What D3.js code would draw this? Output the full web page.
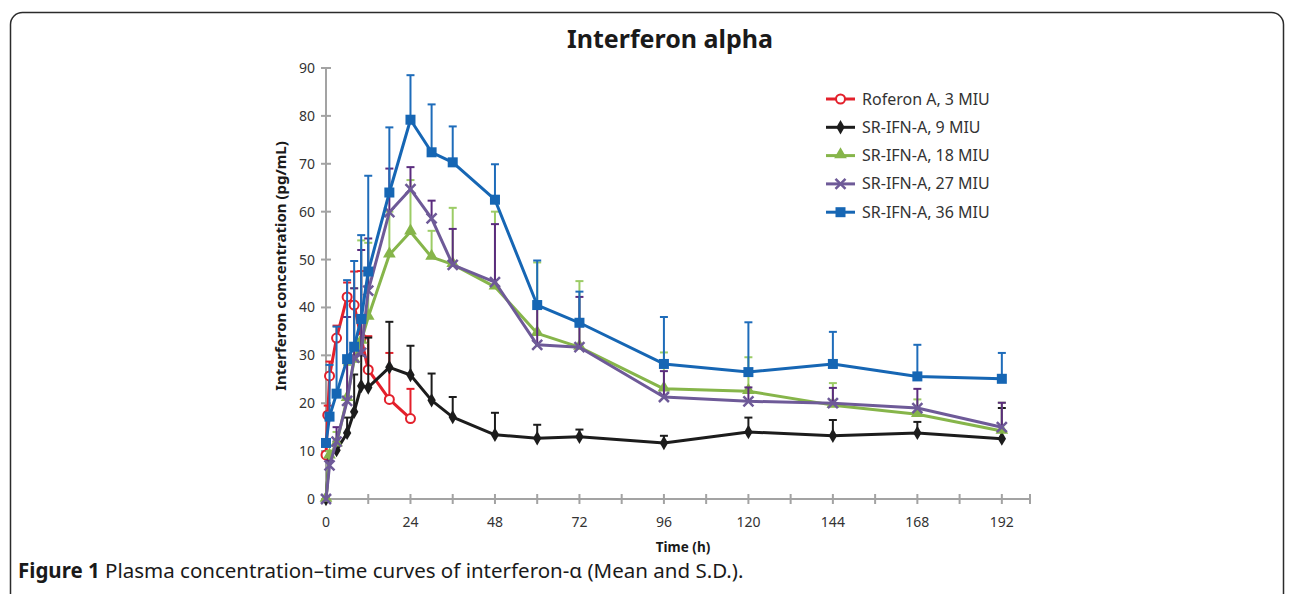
<!DOCTYPE html>
<html>
<head>
<meta charset="utf-8">
<script src="https://cdn.jsdelivr.net/npm/d3@7"></script>
<style>
  body { margin: 0; background: #fff; }
  text { font-family: "Noto Sans", "Open Sans", sans-serif; }
</style>
</head>
<body>
<svg id="chart" width="1292" height="594"></svg>
<script>
// sampling times (h)
var timesRoferon = [0, 0.5, 1, 3, 6, 8, 10, 12, 18, 24];
var timesSR = [0, 1, 3, 6, 8, 10, 12, 18, 24, 30, 36, 48, 60, 72, 96, 120, 144, 168, 192];

// means (pg/mL)
var roferon3 = [9.2, 17.5, 25.7, 33.6, 42.2, 40.5, 33.6, 27, 20.8, 16.8];
var sr9  = [0, 9, 10.2, 13.8, 18.2, 23.6, 23.3, 27.5, 25.9, 20.6, 17.1, 13.4, 12.7, 13.0, 11.7, 14.0, 13.2, 13.8, 12.6];
var sr18 = [0, 9, 11.5, 21, 29, 33, 38, 51, 55.8, 50.5, 49, 44.3, 34.6, 31.7, 23, 22.5, 19.6, 17.7, 14.2];
var sr27 = [0, 7, 12, 20.5, 29.5, 30.5, 43.5, 59.9, 64.7, 58.6, 48.9, 45.3, 32.2, 31.7, 21.3, 20.4, 20.0, 19.0, 15.0];
var sr36 = [11.7, 17.2, 22, 29.2, 31.8, 37.6, 47.5, 64, 79.2, 72.4, 70.3, 62.5, 40.5, 36.8, 28.2, 26.5, 28.2, 25.6, 25.1];

// S.D. (upper bars only)
var roferon3Sd = [0, 2, 3, 2.6, 3, 7, 14, 7, 9.7, 6.2];
var sr9Sd  = [0, 1, 1.8, 3.2, 7.8, 6.4, 10.4, 9.5, 6.1, 5.6, 4.2, 4.6, 2.8, 1.5, 1.5, 3, 3.3, 2.3, 6.4];
var sr18Sd = [0, 1, 2.5, 7, 15, 21, 15.5, 9, 10.8, 5.5, 11.8, 15.7, 14.8, 13.8, 7.6, 7.1, 4.6, 3.1, 5.9];
var sr27Sd = [0, 1, 3, 17.5, 14.5, 21.5, 10.9, 9.1, 4.6, 3.7, 7.5, 12.1, 9, 10.5, 5.4, 2.9, 3.2, 4, 5.1];
var sr36Sd = [0.3, 10.8, 14, 16.5, 17.9, 17.5, 20, 13.6, 9.3, 10, 7.5, 7.4, 9.3, 6.5, 9.8, 10.4, 6.7, 6.6, 5.4];

var seriesNames = ["Roferon A, 3 MIU", "SR-IFN-A, 9 MIU", "SR-IFN-A, 18 MIU", "SR-IFN-A, 27 MIU", "SR-IFN-A, 36 MIU"];

var xTicks = d3.range(0, 193, 12);
var xLabels = d3.range(0, 193, 24);
var yTicks = d3.range(0, 91, 10);

var svg = d3.select("#chart");

// series styling
var series = [
  {name: seriesNames[0], t: timesRoferon, v: roferon3, sd: roferon3Sd, color: "#e3202b", bar: "#e3202b", shape: "circle"},
  {name: seriesNames[1], t: timesSR, v: sr9, sd: sr9Sd, color: "#1c1c1c", bar: "#1c1c1c", shape: "diamond"},
  {name: seriesNames[2], t: timesSR, v: sr18, sd: sr18Sd, color: "#86b54a", bar: "#9ccc66", shape: "triangle"},
  {name: seriesNames[3], t: timesSR, v: sr27, sd: sr27Sd, color: "#6e5a98", bar: "#5b2c7e", shape: "cross"},
  {name: seriesNames[4], t: timesSR, v: sr36, sd: sr36Sd, color: "#1666b4", bar: "#1e6cba", shape: "square"}
];

var x = d3.scaleLinear().domain([0, 200]).range([326, 1030]);
var y = d3.scaleLinear().domain([0, 90]).range([499, 68]);

// frame round the figure
svg.append("rect")
  .attr("x", 10.5).attr("y", 12.5)
  .attr("width", 1273).attr("height", 700)
  .attr("rx", 12)
  .attr("fill", "none")
  .attr("stroke", "#2b2b2b")
  .attr("stroke-width", 1.5);

svg.append("text")
  .attr("x", 670).attr("y", 48)
  .attr("text-anchor", "middle")
  .attr("font-size", 25).attr("font-weight", "bold")
  .attr("fill", "#1a1a1a")
  .text("Interferon alpha");

// axes (cross ticks, grey like the original)
var axisColor = "#a3a3a3";
var axes = svg.append("g");

axes.append("line")
  .attr("x1", x(0)).attr("x2", x(0))
  .attr("y1", y(90)).attr("y2", y(0))
  .attr("stroke", axisColor).attr("stroke-width", 2);
axes.selectAll(".ytick").data(yTicks).enter().append("line")
  .attr("x1", x(0) - 5).attr("x2", x(0) + 5)
  .attr("y1", function(d) { return y(d); })
  .attr("y2", function(d) { return y(d); })
  .attr("stroke", axisColor).attr("stroke-width", 2);
axes.selectAll(".ylab").data(yTicks).enter().append("text")
  .attr("x", x(0) - 11)
  .attr("y", function(d) { return y(d) + 5; })
  .attr("text-anchor", "end")
  .attr("font-size", 14).attr("fill", "#333")
  .text(function(d) { return d; });

axes.append("line")
  .attr("x1", x(0)).attr("x2", x(200))
  .attr("y1", y(0)).attr("y2", y(0))
  .attr("stroke", axisColor).attr("stroke-width", 2);
axes.selectAll(".xtick").data(xTicks.concat([200])).enter().append("line")
  .attr("x1", function(d) { return x(d); })
  .attr("x2", function(d) { return x(d); })
  .attr("y1", y(0) - 5).attr("y2", y(0) + 5)
  .attr("stroke", axisColor).attr("stroke-width", 2);
axes.selectAll(".xlab").data(xLabels).enter().append("text")
  .attr("x", function(d) { return x(d); })
  .attr("y", y(0) + 28)
  .attr("text-anchor", "middle")
  .attr("font-size", 14).attr("fill", "#333")
  .text(function(d) { return d; });

svg.append("text")
  .attr("x", 683).attr("y", 552)
  .attr("text-anchor", "middle")
  .attr("font-size", 13.5).attr("font-weight", "bold").attr("fill", "#1a1a1a")
  .text("Time (h)");

svg.append("text")
  .attr("transform", "translate(286,266) rotate(-90)")
  .attr("text-anchor", "middle")
  .attr("font-size", 15).attr("font-weight", "bold").attr("fill", "#1a1a1a")
  .text("Interferon concentration (pg/mL)");

// markers
function drawMarker(g, shape, color, cx, cy) {
  if (shape === "circle") {
    g.append("circle").attr("cx", cx).attr("cy", cy).attr("r", 4.5)
      .attr("fill", "#fff").attr("stroke", color).attr("stroke-width", 2);
  } else if (shape === "diamond") {
    g.append("path").attr("d", d3.symbol(d3.symbolDiamond, 60)())
      .attr("transform", "translate(" + cx + "," + cy + ")").attr("fill", color);
  } else if (shape === "triangle") {
    g.append("path").attr("d", d3.symbol(d3.symbolTriangle, 70)())
      .attr("transform", "translate(" + cx + "," + (cy - 1) + ")").attr("fill", color);
  } else if (shape === "cross") {
    g.append("path").attr("d", "M-5,-5L5,5M-5,5L5,-5")
      .attr("transform", "translate(" + cx + "," + cy + ")")
      .attr("stroke", color).attr("stroke-width", 2.5).attr("fill", "none");
  } else {
    g.append("rect").attr("x", cx - 5).attr("y", cy - 5)
      .attr("width", 10).attr("height", 10).attr("fill", color);
  }
}

var plot = svg.append("g");
var line = d3.line()
  .x(function(d) { return x(d.t); })
  .y(function(d) { return y(d.v); });

series.forEach(function(s) {
  var pts = s.t.map(function(t, i) { return {t: t, v: s.v[i], sd: s.sd[i]}; });
  var g = plot.append("g");

  // error bars, upper side only
  var bars = pts.filter(function(d) { return d.sd > 0; });
  g.selectAll(".bar").data(bars).enter().append("line")
    .attr("x1", function(d) { return x(d.t); })
    .attr("x2", function(d) { return x(d.t); })
    .attr("y1", function(d) { return y(d.v); })
    .attr("y2", function(d) { return y(d.v + d.sd); })
    .attr("stroke", s.bar).attr("stroke-width", 2);
  g.selectAll(".cap").data(bars).enter().append("line")
    .attr("x1", function(d) { return x(d.t) - 4; })
    .attr("x2", function(d) { return x(d.t) + 4; })
    .attr("y1", function(d) { return y(d.v + d.sd); })
    .attr("y2", function(d) { return y(d.v + d.sd); })
    .attr("stroke", s.bar).attr("stroke-width", 2);

  g.append("path").datum(pts)
    .attr("d", line)
    .attr("fill", "none")
    .attr("stroke", s.color)
    .attr("stroke-width", 3)
    .attr("stroke-linejoin", "round");

  pts.forEach(function(d) { drawMarker(g, s.shape, s.color, x(d.t), y(d.v)); });
});

// legend
var legend = svg.append("g");
series.forEach(function(s, i) {
  var ly = 99 + i * 28.3;
  var lg = legend.append("g");
  lg.append("line").attr("x1", 826).attr("x2", 855).attr("y1", ly).attr("y2", ly)
    .attr("stroke", s.color).attr("stroke-width", 3);
  drawMarker(lg, s.shape, s.color, 840.5, ly);
  lg.append("text").attr("x", 862).attr("y", ly + 5.5)
    .attr("font-size", 16).attr("fill", "#333")
    .text(s.name);
});

// caption
var cap = svg.append("text").attr("x", 18).attr("y", 578)
  .attr("font-size", 20.5).attr("fill", "#1a1a1a");
cap.append("tspan").attr("font-weight", "bold").text("Figure 1");
cap.append("tspan").text(" Plasma concentration\u2013time curves of interferon-\u03b1 (Mean and S.D.).");
</script>
</body>
</html>
